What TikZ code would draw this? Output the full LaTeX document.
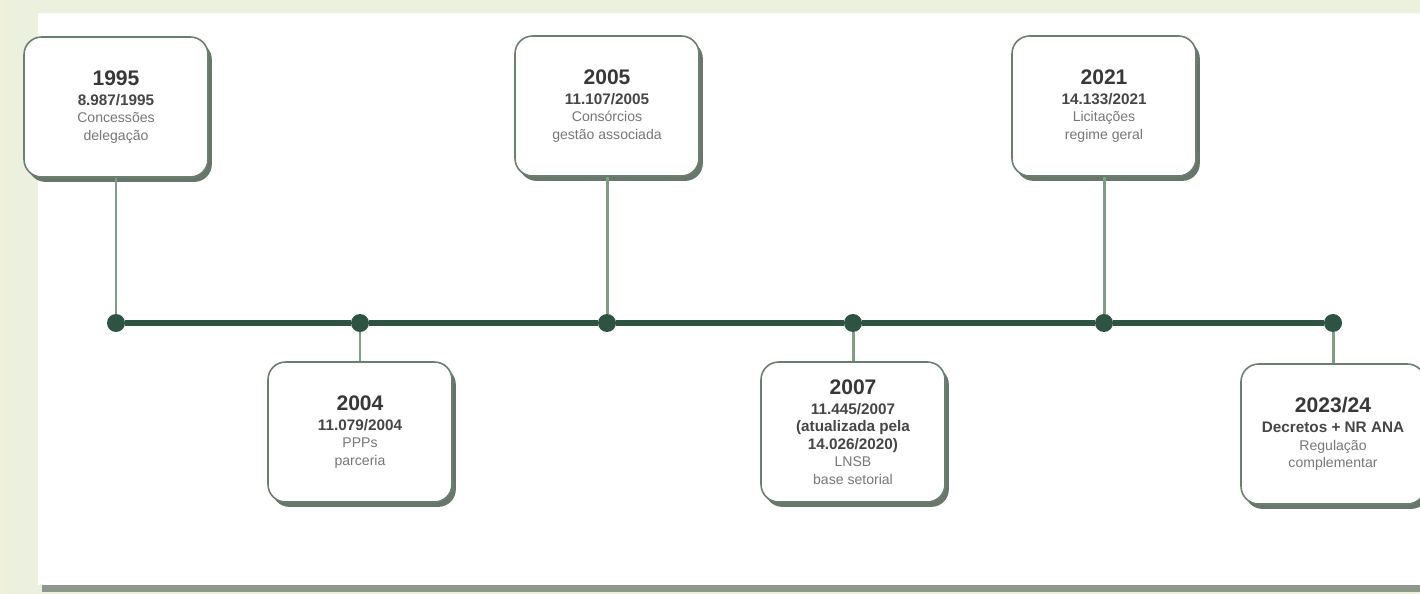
\documentclass[tikz,border=0pt]{standalone}
\usepackage{fontspec}
\setmainfont{Liberation Sans}
\usetikzlibrary{shadows}
\definecolor{bgpale}{HTML}{EBF0DF}
\definecolor{bgleft}{HTML}{F2F0DA}
\definecolor{panelshade}{HTML}{8E978C}
\definecolor{lineDark}{HTML}{2F5342}
\definecolor{stemGreen}{HTML}{829C88}
\definecolor{cardEdge}{HTML}{6A7F6E}
\definecolor{cardShade}{HTML}{4F5F53}
\definecolor{yearInk}{HTML}{383838}
\definecolor{lawInk}{HTML}{464646}
\definecolor{noteInk}{HTML}{777777}
\newcommand{\yr}[1]{{\fontsize{12}{14}\selectfont\bfseries\color{yearInk}#1}}
\newcommand{\lawtxt}[1]{{\fontsize{8.7}{9.9}\selectfont\bfseries\color{lawInk}#1}}
\newcommand{\notetxt}[1]{{\color{noteInk}#1}}
\tikzset{
	card/.style={draw=cardEdge, line width=0.9pt, fill=white, rounded corners=10pt,
		minimum width=3.68cm, minimum height=2.8cm, align=center, inner sep=2pt,
		font=\fontsize{8}{9.9}\selectfont,
		drop shadow={shadow xshift=2.2pt, shadow yshift=-2.8pt, fill=cardShade, opacity=0.85}},
	dot/.style={circle, fill=lineDark, minimum size=0.36cm, inner sep=0pt},
	stem/.style={draw=stemGreen, line width=1.7pt},
	timeline/.style={draw=lineDark, line width=3.4pt}
}
\begin{document}
\begin{tikzpicture}[x=0.02cm, y=-0.02cm]
	\useasboundingbox (0, 0) rectangle (1420, 594);
	% backdrop and panel
	\fill[bgpale] (0, 0) rectangle (1420, 594);
	\fill[bgleft] (0, 0) rectangle (6, 594);
	\fill[panelshade] (42, 19) rectangle (1420, 592);
	\fill[white] (38, 13) rectangle (1420, 585);
	% cards above the line
	\node[card] (c1995) at (116, 107) {\yr{1995}\\[1.5pt]\lawtxt{8.987/1995}\\\notetxt{Concessões}\\\notetxt{delegação}};
	\node[card] (c2005) at (607, 106) {\yr{2005}\\[1.5pt]\lawtxt{11.107/2005}\\\notetxt{Consórcios}\\\notetxt{gestão associada}};
	\node[card] (c2021) at (1104, 106) {\yr{2021}\\[1.5pt]\lawtxt{14.133/2021}\\\notetxt{Licitações}\\\notetxt{regime geral}};
	% cards below the line
	\node[card] (c2004) at (360, 432) {\yr{2004}\\[1.5pt]\lawtxt{11.079/2004}\\\notetxt{PPPs}\\\notetxt{parceria}};
	\node[card] (c2007) at (853, 432) {\yr{2007}\\[1.5pt]\lawtxt{11.445/2007}\\\lawtxt{(atualizada pela}\\\lawtxt{14.026/2020)}\\\notetxt{LNSB}\\\notetxt{base setorial}};
	\node[card] (c2023) at (1333, 434) {\yr{2023/24}\\[1.5pt]\lawtxt{Decretos + NR ANA}\\\notetxt{Regulação}\\\notetxt{complementar}};
	% dots on the line
	\foreach \yy/\xx in {1995/116, 2004/360, 2005/607, 2007/853, 2021/1104, 2023/1333}
		\node[dot] (d\yy) at (\xx, 323) {};
	\draw[timeline] (d1995) -- (d2004) -- (d2005) -- (d2007) -- (d2021) -- (d2023);
	\foreach \yy in {1995, 2004, 2005, 2007, 2021, 2023}
		\draw[stem] (c\yy) -- (d\yy);
\end{tikzpicture}
\end{document}
